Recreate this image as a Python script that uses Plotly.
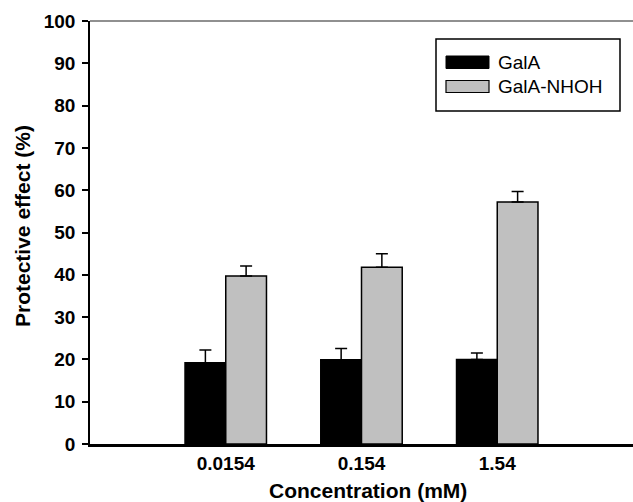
import plotly.graph_objects as go

categories = ["0.0154", "0.154", "1.54"]
gala = [19.2, 19.9, 20.0]
gala_err = [3.0, 2.7, 1.5]
nhoh = [39.7, 41.8, 57.2]
nhoh_err = [2.4, 3.2, 2.5]
series_names = ["GalA", "GalA-NHOH"]
y_ticks = [0, 10, 20, 30, 40, 50, 60, 70, 80, 90, 100]

W, H = 633, 502
L, R, T, B = 90, 0, 21, 58
PW, PH = W - L - R, H - T - B

def px(x):
    return (x - L) / PW

def py(y):
    return (H - B - y) / PH

FONT = "Liberation Sans, Arial, Helvetica, sans-serif"

fig = go.Figure()
fig.add_trace(go.Bar(
    x=categories, y=gala, name=series_names[0],
    marker=dict(color="#000000", line=dict(color="#000000", width=1.5)),
    error_y=dict(type="data", array=gala_err, arrayminus=[0] * len(gala_err),
                 symmetric=False, color="#000000", thickness=1.5, width=6),
))
fig.add_trace(go.Bar(
    x=categories, y=nhoh, name=series_names[1],
    marker=dict(color="#c0c0c0", line=dict(color="#000000", width=1.5)),
    error_y=dict(type="data", array=nhoh_err, arrayminus=[0] * len(nhoh_err),
                 symmetric=False, color="#000000", thickness=1.5, width=6),
))

shapes = [
    dict(type="line", xref="paper", yref="paper", x0=0, x1=1, y0=1, y1=1,
         line=dict(color="#222222", width=1.2)),
    dict(type="rect", xref="paper", yref="paper", x0=px(436), x1=px(620), y0=py(111), y1=py(39),
         line=dict(color="#000000", width=1.5), fillcolor="white", layer="above"),
    dict(type="rect", xref="paper", yref="paper", x0=px(446), x1=px(489), y0=py(68.5), y1=py(56),
         line=dict(color="#000000", width=1), fillcolor="#000000", layer="above"),
    dict(type="rect", xref="paper", yref="paper", x0=px(446), x1=px(489), y0=py(92.5), y1=py(80.5),
         line=dict(color="#000000", width=1.2), fillcolor="#c0c0c0", layer="above"),
]

annotations = [
    dict(text=series_names[0], xref="paper", yref="paper", x=px(496), y=py(62.5),
         xanchor="left", yanchor="middle", showarrow=False,
         font=dict(family=FONT, size=19, color="#000000")),
    dict(text=series_names[1], xref="paper", yref="paper", x=px(496), y=py(86.5),
         xanchor="left", yanchor="middle", showarrow=False,
         font=dict(family=FONT, size=19, color="#000000")),
    dict(text="<b>Concentration (mM)</b>", xref="paper", yref="paper", x=px(368), y=py(490),
         xanchor="center", yanchor="middle", showarrow=False,
         font=dict(family=FONT, size=21, color="#000000")),
    dict(text="<b>Protective effect (%)</b>", xref="paper", yref="paper", x=px(22), y=py(226),
         xanchor="center", yanchor="middle", showarrow=False, textangle=-90,
         font=dict(family=FONT, size=21, color="#000000")),
]

fig.update_layout(
    width=W, height=H,
    margin=dict(l=L, r=R, t=T, b=B, pad=0),
    paper_bgcolor="white", plot_bgcolor="white",
    barmode="group", bargap=0.4, bargroupgap=0,
    showlegend=False,
    font=dict(family=FONT, color="#000000"),
    shapes=shapes, annotations=annotations,
    xaxis=dict(type="category", range=[-1, 3], showline=True, linecolor="#000000", linewidth=2.5,
               ticks="", showgrid=False, zeroline=False,
               tickfont=dict(family=FONT, size=19, color="#000000", weight="bold")),
    yaxis=dict(range=[0, 100], tickvals=y_ticks, showline=True, linecolor="#000000", linewidth=1.5,
               ticks="outside", ticklen=6, tickwidth=1.5, tickcolor="#000000",
               showgrid=False, zeroline=False, ticklabelstandoff=3,
               tickfont=dict(family=FONT, size=19, color="#000000", weight="bold")),
)

fig.write_html("out.html")
